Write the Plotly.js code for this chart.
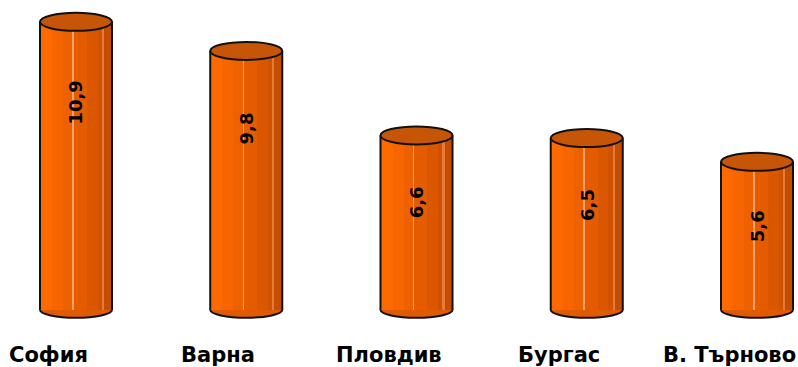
<!DOCTYPE html>
<html>
<head>
<meta charset="utf-8">
<script src="https://cdn.plot.ly/plotly-3.0.1.min.js"></script>
<style>html,body{margin:0;padding:0;background:#fff;}#chart{width:798px;height:367px;}</style>
</head>
<body>
<div id="chart"></div>
<script>
const categories = ["София", "Варна", "Пловдив", "Бургас", "В. Търново"];
const values = [10.9, 9.8, 6.6, 6.5, 5.6];
const valueLabels = ["10,9", "9,8", "6,6", "6,5", "5,6"];

const positions = categories.map((c, i) => i);
const barWidth = 0.423;
// gradient strips across the cylinder face: [start fraction, end fraction, colour]
const strips = [
  [0.00, 0.17, "#FF6A00"],
  [0.17, 0.32, "#F76500"],
  [0.32, 0.45, "#EE6100"],
  [0.45, 0.47, "#F4A26A"],
  [0.47, 0.65, "#E55C00"],
  [0.65, 0.80, "#DA5700"],
  [0.80, 0.86, "#D05200"],
  [0.86, 0.89, "#E57A3A"],
  [0.89, 1.00, "#C44E00"]
];

const traces = strips.map(s => ({
  type: "bar",
  x: positions,
  y: values,
  width: barWidth * (s[1] - s[0]),
  offset: -barWidth / 2 + barWidth * s[0],
  marker: {color: s[2], line: {width: 0}},
  hoverinfo: "skip",
  showlegend: false
}));

const shapes = [];
positions.forEach((p, i) => {
  shapes.push({
    type: "circle", layer: "below", xref: "x", yref: "y",
    ysizemode: "pixel", yanchor: 0, y0: -8, y1: 8,
    x0: p - barWidth / 2, x1: p + barWidth / 2,
    fillcolor: "#E05A00", line: {color: "#111", width: 2}
  });
  [-1, 1].forEach(sgn => shapes.push({
    type: "line", xref: "x", yref: "y", layer: "above",
    x0: p + sgn * barWidth / 2, x1: p + sgn * barWidth / 2, y0: 0, y1: values[i],
    line: {color: "#111", width: 2}
  }));
  shapes.push({
    type: "circle", layer: "above", xref: "x", yref: "y",
    ysizemode: "pixel", yanchor: values[i], y0: -9, y1: 9,
    x0: p - barWidth / 2, x1: p + barWidth / 2,
    fillcolor: "#C65508", line: {color: "#111", width: 2}
  });
});

const annotations = [];
positions.forEach((p, i) => {
  annotations.push({
    x: p, y: values[i] * 0.883 - 1.78, xref: "x", yref: "y",
    text: "<b>" + valueLabels[i] + "</b>", showarrow: false, textangle: -90,
    font: {family: "DejaVu Sans, Arial, sans-serif", size: 18, color: "#000"},
    xanchor: "center", yanchor: "middle"
  });
  annotations.push({
    x: p, y: -0.101, xref: "x", yref: "paper", xshift: -28,
    text: "<b>" + categories[i] + "</b>", showarrow: false,
    font: {family: "DejaVu Sans, Arial, sans-serif", size: 21, color: "#000"},
    xanchor: "center", yanchor: "middle"
  });
});

const layout = {
  width: 798, height: 367,
  margin: {l: 0, r: 0, t: 6, b: 44},
  paper_bgcolor: "#fff", plot_bgcolor: "#fff",
  barmode: "overlay", bargap: 0,
  xaxis: {range: [-0.4464, 4.2408], visible: false, fixedrange: true},
  yaxis: {range: [-0.5, 11.5], visible: false, fixedrange: true},
  shapes: shapes,
  annotations: annotations,
  showlegend: false
};

Plotly.newPlot("chart", traces, layout, {displayModeBar: false, staticPlot: true});
</script>
</body>
</html>
